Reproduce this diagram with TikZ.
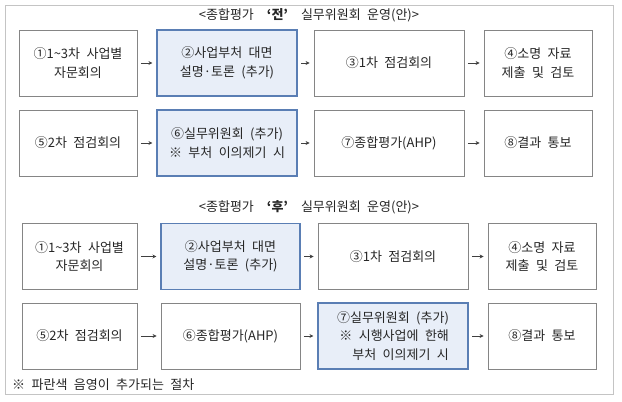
\documentclass[tikz,border=0pt]{standalone}
\usepackage{fontspec}
\setmainfont[WordSpace=2.2]{Noto Sans CJK KR}
\usetikzlibrary{arrows.meta}
\definecolor{bluefill}{HTML}{E8EEF8}
\definecolor{blueline}{HTML}{5A7EB4}
\definecolor{grayline}{HTML}{858585}
\definecolor{frameline}{HTML}{C4C4C4}
\begin{document}
\begin{tikzpicture}[x=1pt,y=-1pt,
  bx/.style={draw=grayline, line width=0.8pt, fill=white, inner sep=0pt, align=center,
    font=\fontsize{13}{18.5}\selectfont, text=black!85},
  bluebx/.style={bx, draw=blueline, line width=1.1pt, fill=bluefill},
  arr/.style={-{Stealth[length=4pt,width=4pt]}, line width=0.8pt, draw=black!75, shorten <=3.5pt, shorten >=4pt},
  ttl/.style={font=\fontsize{13}{16}\selectfont, text=black!85, inner sep=0pt},
  c1t/.style={minimum width=118pt, minimum height=66pt},
  c2t/.style={minimum width=140pt, minimum height=66pt},
  c3t/.style={minimum width=150pt, minimum height=66pt},
  c4t/.style={minimum width=108pt, minimum height=66pt},
  c1b/.style={minimum width=115pt, minimum height=66pt},
  c2b/.style={minimum width=139pt, minimum height=66pt},
  c3b/.style={minimum width=150pt, minimum height=66pt},
  c4b/.style={minimum width=108pt, minimum height=66pt}]
\useasboundingbox (0,0) rectangle (622,402);
\node[draw=frameline, line width=0.8pt, minimum width=608pt, minimum height=389pt, inner sep=0pt] (frame) at (309,199.5) {};

% top section
\node[ttl] (title1) at (309,15) {<종합평가\hspace{13pt}{\bfseries ‘전’}\hspace{13pt}실무위원회 운영(안)>};
\node[bx,c1t] (a1) at (78,63) {①1\textasciitilde3차 사업별\\자문회의};
\node[bluebx,c2t] (a2) at (227,63) {②사업부처 대면\\설명·토론 (추가)};
\node[bx,c3t] (a3) at (389,63) {③1차 점검회의};
\node[bx,c4t] (a4) at (538,63) {④소명 자료\\제출 및 검토};
\node[bx,c1t] (a5) at (78,143) {⑤2차 점검회의};
\node[bluebx,c2t] (a6) at (227,143) {⑥실무위원회 (추가)\\※ 부처 이의제기 시};
\node[bx,c3t] (a7) at (389,143) {⑦종합평가(AHP)};
\node[bx,c4t] (a8) at (538,143) {⑧결과 통보};
\draw[arr] (a1) -- (a2);
\draw[arr] (a2) -- (a3);
\draw[arr] (a3) -- (a4);
\draw[arr] (a5) -- (a6);
\draw[arr] (a6) -- (a7);
\draw[arr] (a7) -- (a8);

% bottom section
\node[ttl] (title2) at (309,207) {<종합평가\hspace{13pt}{\bfseries ‘후’}\hspace{13pt}실무위원회 운영(안)>};
\node[bx,c1b] (b1) at (79.5,256.5) {①1\textasciitilde3차 사업별\\자문회의};
\node[bluebx,c2b] (b2) at (230.5,256.5) {②사업부처 대면\\설명·토론 (추가)};
\node[bx,c3b] (b3) at (393,256.5) {③1차 점검회의};
\node[bx,c4b] (b4) at (542,256.5) {④소명 자료\\제출 및 검토};
\node[bx,c1b] (b5) at (79.5,336) {⑤2차 점검회의};
\node[bx,c2b] (b6) at (230.5,336) {⑥종합평가(AHP)};
\node[bluebx,c3b, align=right] (b7) at (393,336) {⑦실무위원회 (추가)\\※ 시행사업에 한해\\부처 이의제기 시};
\node[bx,c4b] (b8) at (542,336) {⑧결과 통보};
\draw[arr] (b1) -- (b2);
\draw[arr] (b2) -- (b3);
\draw[arr] (b3) -- (b4);
\draw[arr] (b5) -- (b6);
\draw[arr] (b6) -- (b7);
\draw[arr] (b7) -- (b8);

\node[ttl, anchor=west] (note) at (12,385) {※ 파란색 음영이 추가되는 절차};
\end{tikzpicture}
\end{document}
